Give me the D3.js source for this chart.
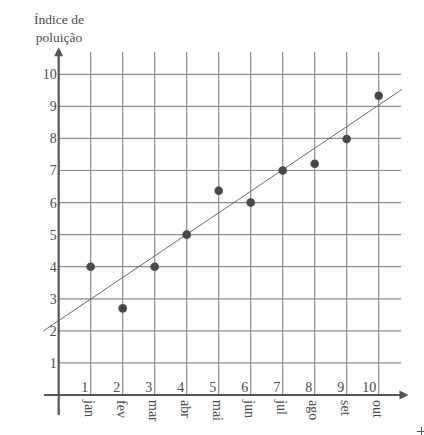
<!DOCTYPE html>
<html>
<head>
<meta charset="utf-8">
<title>Índice de poluição</title>
<script src="https://d3js.org/d3.v7.min.js"></script>
<style>
  body { margin: 0; background: #fff; }
  svg text { font-family: "Liberation Serif", "DejaVu Serif", serif; fill: #4a4a4a; }
</style>
</head>
<body>
<script>
// data
var months = ["jan", "fev", "mar", "abr", "mai", "jun", "jul", "ago", "set", "out"];
var monthNums = [1, 2, 3, 4, 5, 6, 7, 8, 9, 10];
var values = [4, 2.7, 4, 5, 6.37, 6, 7, 7.21, 7.98, 9.33];
var yTicks = [1, 2, 3, 4, 5, 6, 7, 8, 9, 10];
var trendIntercept = 2.32, trendSlope = 0.672;
var trendFrom = -0.48, trendTo = 10.73;

var width = 424, height = 435;

var x = d3.scaleLinear().domain([0, 10]).range([58.7, 378.7]);
var y = d3.scaleLinear().domain([0, 10]).range([395, 74.3]);

var svg = d3.select("body").append("svg")
  .attr("width", width)
  .attr("height", height);

var gridMax = 10.7;

// grid
svg.append("g").selectAll("line")
  .data(yTicks)
  .enter().append("line")
  .attr("x1", x(0)).attr("x2", x(gridMax))
  .attr("y1", function(d) { return y(d); })
  .attr("y2", function(d) { return y(d); })
  .attr("stroke", "#8a8a8a").attr("stroke-width", 1.2);

svg.append("g").selectAll("line")
  .data(monthNums)
  .enter().append("line")
  .attr("x1", function(d) { return x(d); })
  .attr("x2", function(d) { return x(d); })
  .attr("y1", y(0)).attr("y2", y(gridMax))
  .attr("stroke", "#8a8a8a").attr("stroke-width", 1.2);

// trend line
svg.append("line")
  .attr("x1", x(trendFrom)).attr("y1", y(trendIntercept + trendSlope * trendFrom))
  .attr("x2", x(trendTo)).attr("y2", y(trendIntercept + trendSlope * trendTo))
  .attr("stroke", "#666").attr("stroke-width", 1);

// axes lines + arrows
svg.append("line")
  .attr("x1", x(-0.46)).attr("x2", x(10.85))
  .attr("y1", y(0)).attr("y2", y(0))
  .attr("stroke", "#555").attr("stroke-width", 2.2);
svg.append("line")
  .attr("x1", x(0)).attr("x2", x(0))
  .attr("y1", y(-0.62)).attr("y2", y(10.6))
  .attr("stroke", "#555").attr("stroke-width", 2.2);

var ax = x(10.65), ay = y(0);
svg.append("path")
  .attr("d", "M" + ax + "," + (ay - 4.5) + "L" + (ax + 9) + "," + ay + "L" + ax + "," + (ay + 4.5) + "Z")
  .attr("fill", "#555");
var tx = x(0), ty = y(10.84);
svg.append("path")
  .attr("d", "M" + (tx - 4.5) + "," + (ty + 9) + "L" + tx + "," + ty + "L" + (tx + 4.5) + "," + (ty + 9) + "Z")
  .attr("fill", "#555");

// y tick labels
var yAxis = svg.append("g")
  .attr("transform", "translate(" + (x(0) - 2) + ",0)")
  .call(d3.axisLeft(y).tickValues(yTicks).tickSize(0).tickPadding(0).tickFormat(d3.format("d")));
yAxis.select(".domain").remove();
yAxis.selectAll("text")
  .attr("font-size", 14)
  .attr("fill", "#4a4a4a")
  .style("font-family", "'Liberation Serif', serif");

// x numbers above axis
svg.append("g").selectAll("text")
  .data(monthNums)
  .enter().append("text")
  .attr("x", function(d) { return x(d) - 2.5; })
  .attr("y", y(0) - 3)
  .attr("text-anchor", "end")
  .attr("font-size", 14)
  .text(function(d) { return d; });

// month labels below axis
svg.append("g").selectAll("text")
  .data(months)
  .enter().append("text")
  .attr("transform", function(d, i) {
    return "translate(" + (x(monthNums[i]) - 1.5) + "," + (y(0) + 5) + ") rotate(90)";
  })
  .attr("dy", "0.32em")
  .attr("font-size", 14)
  .text(function(d) { return d; });

// points
svg.append("g").selectAll("circle")
  .data(values)
  .enter().append("circle")
  .attr("cx", function(d, i) { return x(monthNums[i]); })
  .attr("cy", function(d) { return y(d); })
  .attr("r", 4.3)
  .attr("fill", "#484848");

// title
var title = svg.append("text")
  .attr("text-anchor", "middle")
  .attr("font-size", 13.5);
title.append("tspan").attr("x", 59).attr("y", 24).text("Índice de");
title.append("tspan").attr("x", 59).attr("y", 42).text("poluição");

// small corner mark
svg.append("path")
  .attr("d", "M417,431.5H426M421.5,427V436")
  .attr("stroke", "#555").attr("stroke-width", 1);
</script>
</body>
</html>
